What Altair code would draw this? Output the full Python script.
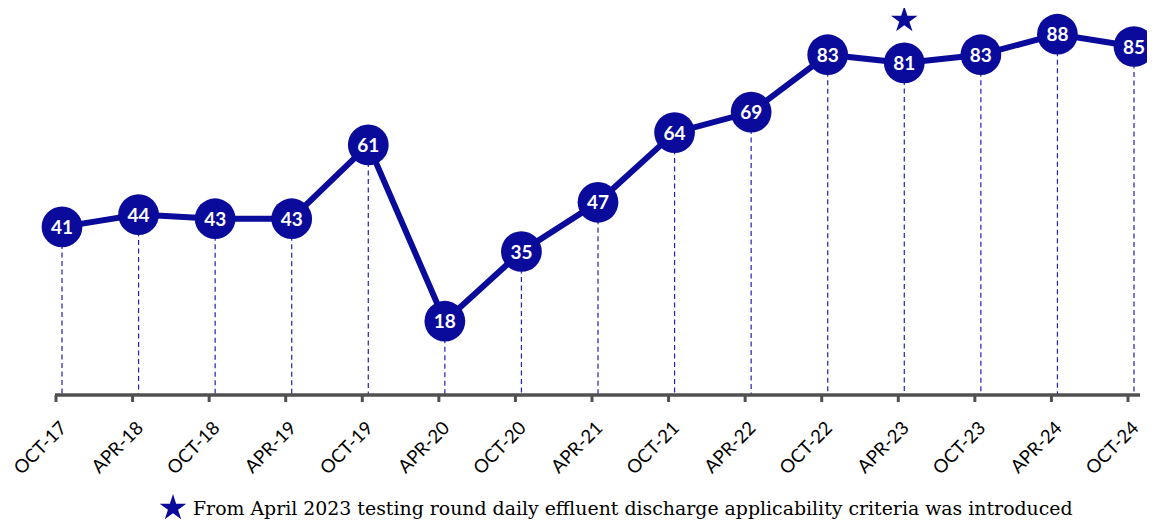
import altair as alt
import pandas as pd

periods = ["OCT-17", "APR-18", "OCT-18", "APR-19", "OCT-19", "APR-20", "OCT-20",
           "APR-21", "OCT-21", "APR-22", "OCT-22", "APR-23", "OCT-23", "APR-24", "OCT-24"]
values = [41, 44, 43, 43, 61, 18, 35, 47, 64, 69, 83, 81, 83, 88, 85]
star_period = "APR-23"
footnote = "From April 2023 testing round daily effluent discharge applicability criteria was introduced"

BLUE = "#0A0A9B"
GREY = "#505050"
STAR = ("M0,-1L0.2245,-0.309L0.9511,-0.309L0.3633,0.118L0.5878,0.809L0,0.382"
        "L-0.5878,0.809L-0.3633,0.118L-0.9511,-0.309L-0.2245,-0.309Z")
n = len(periods)

# full-canvas plot area (no padding); scale domains chosen so the data land where the reference has them
W, H = 1139, 512
PX_X = 1072 / (n - 1)          # pixels per period
PX_Y = 4.1                     # pixels per unit
x_dom = [-54 / PX_X, (n - 1) + 13 / PX_X]
y_dom = [-(H - 387) / PX_Y, 387 / PX_Y]
TICK_SHIFT = 6 / PX_X

df = pd.DataFrame({"idx": list(range(n)), "period": periods, "value": values})
df["zero"] = 0.0
df["tick_x"] = df["idx"] - TICK_SHIFT
df["tick_y"] = -7 / PX_Y
df["lab_x"] = df["idx"] + 1.5 / PX_X
df["lab_y"] = -30 / PX_Y

xs = alt.Scale(domain=x_dom, nice=False, zero=False)
ys = alt.Scale(domain=y_dom, nice=False, zero=False)
X = lambda f: alt.X(f, scale=xs, axis=None)
Y = lambda f: alt.Y(f, scale=ys, axis=None)

base = alt.Chart(df)

drops = base.mark_rule(color="#2020B8", strokeWidth=1.2, strokeDash=[5, 3.5]).encode(
    x=X("idx:Q"), y=Y("value:Q"), y2="zero:Q")

axis_df = pd.DataFrame({"a": [-TICK_SHIFT - 1 / PX_X], "b": [(n - 1) + 6 / PX_X], "z": [0.0]})
axis_line = alt.Chart(axis_df).mark_rule(color=GREY, strokeWidth=3.5).encode(
    x=X("a:Q"), x2="b:Q", y=Y("z:Q"))

ticks = base.mark_rule(color=GREY, strokeWidth=3).encode(
    x=X("tick_x:Q"), y=Y("zero:Q"), y2="tick_y:Q")

tick_labels = base.mark_text(angle=315, align="right", baseline="middle", font="Lato",
                             fontSize=18.5, color="#000000").encode(
    x=X("lab_x:Q"), y=Y("lab_y:Q"), text="period:N")

line = base.mark_line(color=BLUE, strokeWidth=6).encode(x=X("idx:Q"), y=Y("value:Q"))
dots = base.mark_circle(color=BLUE, opacity=1, size=1660).encode(x=X("idx:Q"), y=Y("value:Q"))
labels = base.mark_text(color="white", font="Lato", fontWeight="bold", fontSize=19,
                        baseline="middle", dy=1).encode(x=X("idx:Q"), y=Y("value:Q"), text="value:Q")

star_df = pd.DataFrame({"idx": [periods.index(star_period)], "value": [375 / PX_Y]})
star = alt.Chart(star_df).mark_point(shape=STAR, filled=True, opacity=1, color=BLUE,
                                     size=780, strokeWidth=0).encode(x=X("idx:Q"), y=Y("value:Q"))

note_df = pd.DataFrame({"t": [footnote]})
note_star = alt.Chart(note_df).mark_point(shape=STAR, filled=True, opacity=1, color=BLUE,
                                          size=780, strokeWidth=0).encode(
    x=alt.value(165), y=alt.value(500))
note_text = alt.Chart(note_df).mark_text(color="#000000", fontSize=18.9, font="DejaVu Serif",
                                         baseline="alphabetic", align="left").encode(
    x=alt.value(185), y=alt.value(507), text="t:N")

chart = alt.layer(drops, axis_line, ticks, tick_labels, line, dots, labels, star,
                  note_star, note_text).properties(
    width=W, height=H,
    autosize=alt.AutoSizeParams(type="none"),
    padding=0,
    background="white",
).configure_view(stroke=None)

chart.save("out.html", embed_options={"renderer": "svg", "actions": False})
